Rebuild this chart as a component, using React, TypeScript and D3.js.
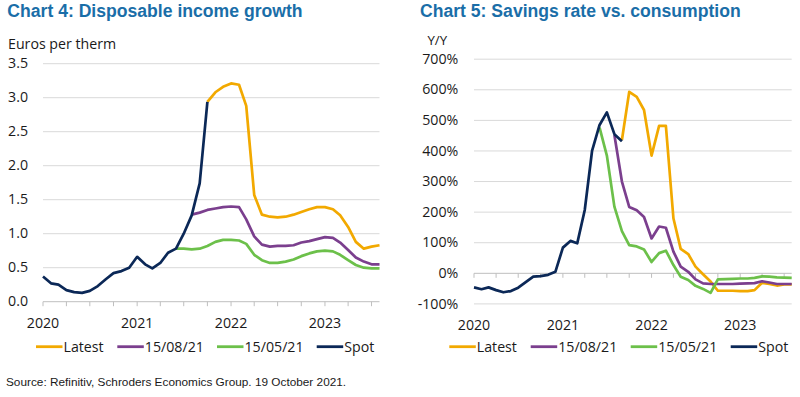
import React from "react";
import * as d3 from "d3";

// ---------- Data ----------
const SERIES_NAMES = ["Latest", "15/08/21", "15/05/21", "Spot"];
const SERIES_COLORS = ["#F2A900", "#7B3F8E", "#6CC04A", "#0B2857"];
const YEAR_LABELS = ["2020", "2021", "2022", "2023"];
const AXIS_START = "2020-01";
const AXIS_END = "2023-08";

// Chart 4 (monthly, first month of each series given)
const c4SpotStart = "2020-01";
const c4Spot = [0.37, 0.27, 0.25, 0.17, 0.14, 0.13, 0.16, 0.23, 0.33, 0.42, 0.45, 0.5, 0.66, 0.55, 0.49, 0.57, 0.72, 0.78, 1.0, 1.27, 1.74, 2.94];
const c4MayStart = "2021-06";
const c4May = [0.78, 0.78, 0.77, 0.78, 0.82, 0.88, 0.91, 0.91, 0.9, 0.85, 0.69, 0.61, 0.57, 0.57, 0.59, 0.62, 0.67, 0.71, 0.74, 0.75, 0.74, 0.69, 0.61, 0.54, 0.5, 0.49, 0.49];
const c4AugStart = "2021-08";
const c4Aug = [1.28, 1.31, 1.35, 1.37, 1.39, 1.4, 1.39, 1.21, 0.96, 0.84, 0.81, 0.82, 0.82, 0.83, 0.87, 0.89, 0.92, 0.95, 0.94, 0.87, 0.76, 0.65, 0.59, 0.55, 0.55];
const c4LatestStart = "2021-10";
const c4Latest = [2.94, 3.08, 3.16, 3.21, 3.19, 2.88, 1.57, 1.28, 1.25, 1.24, 1.25, 1.28, 1.32, 1.36, 1.39, 1.39, 1.36, 1.27, 1.1, 0.88, 0.78, 0.81, 0.83];
const c4Ticks = [0, 0.5, 1, 1.5, 2, 2.5, 3, 3.5];

// Chart 5 (% y/y)
const c5SpotStart = "2020-01";
const c5Spot = [-46, -52, -46, -55, -62, -58, -47, -29, -11, -9, -5, 5, 84, 106, 98, 207, 400, 485, 526, 455, 432];
const c5MayStart = "2021-06";
const c5May = [476, 385, 218, 138, 92, 88, 78, 37, 66, 74, 27, -11, -22, -41, -51, -64, -20, -19, -18, -17, -17, -15, -10, -11, -13, -14, -15];
const c5AugStart = "2021-08";
const c5Aug = [452, 300, 217, 206, 184, 114, 153, 149, 71, 22, 5, -20, -33, -35, -35, -35, -35, -34, -33, -32, -26, -30, -35, -35, -35];
const c5LatestStart = "2021-09";
const c5Latest = [436, 593, 577, 534, 385, 482, 482, 180, 80, 63, 22, -3, -27, -57, -57, -57, -58, -58, -55, -31, -35, -40, -36, -36];
const c5Ticks = [-100, 0, 100, 200, 300, 400, 500, 600, 700];

const SOURCE = "Source: Refinitiv, Schroders Economics Group. 19 October 2021.";

// ---------- Helpers ----------
const parseMonth = d3.timeParse("%Y-%m");
const toPoints = (start: string, vals: number[]) => {
  const s = parseMonth(start) as Date;
  return vals.map((v, i) => ({ d: d3.timeMonth.offset(s, i), v }));
};

const OPEN = "'Open Sans', 'DejaVu Sans', sans-serif";
const ARIAL = "'Liberation Sans', Arial, sans-serif";
const TITLE_COLOR = "#1A6EA8";
const GRID = "#D9D9D9";
const AXIS = "#BFBFBF";
const TEXT = "#1a1a1a";

type PanelProps = {
  title: string;
  titleX: number;
  unit: string;
  unitX: number;
  unitY: number;
  unitSize: number;
  unitAnchor: "start" | "middle";
  xRange: [number, number];
  yDomain: [number, number];
  yRange: [number, number];
  ticks: number[];
  tickFmt: (v: number) => string;
  tickX: number;
  axisAt: number;
  xLabelY: number;
  legendX: number[];
  series: { pts: { d: Date; v: number }[]; color: string }[];
};

function Panel(p: PanelProps) {
  const x = d3
    .scaleTime()
    .domain([parseMonth(AXIS_START) as Date, parseMonth(AXIS_END) as Date])
    .range(p.xRange);
  const y = d3.scaleLinear().domain(p.yDomain).range(p.yRange);
  const line = d3
    .line<{ d: Date; v: number }>()
    .x((d) => x(d.d))
    .y((d) => y(d.v));
  const qTicks = d3.timeMonth.every(3)!.range(x.domain()[0], d3.timeDay.offset(x.domain()[1], 1));
  const yearTicks = YEAR_LABELS.map((yl) => parseMonth(yl + "-01") as Date);
  const axisY = y(p.axisAt);
  return (
    <g>
      <text x={p.titleX} y={16.7} fontFamily={ARIAL} fontWeight="bold" fontSize={17.6} fill={TITLE_COLOR}>
        {p.title}
      </text>
      <text x={p.unitX} y={p.unitY} fontFamily={OPEN} fontSize={p.unitSize} fill={TEXT} textAnchor={p.unitAnchor}>
        {p.unit}
      </text>
      {p.ticks.map((t) => (
        <g key={t}>
          {t !== p.axisAt && (
            <line x1={p.xRange[0]} x2={p.xRange[1]} y1={y(t)} y2={y(t)} stroke={GRID} strokeWidth={1} />
          )}
          <text x={p.tickX} y={y(t)} dy="0.33em" textAnchor="end" fontFamily={OPEN} fontSize={14.2} fill={TEXT}>
            {p.tickFmt(t)}
          </text>
        </g>
      ))}
      <line x1={p.xRange[0]} x2={p.xRange[1]} y1={axisY} y2={axisY} stroke={AXIS} strokeWidth={1} />
      {qTicks.map((d, i) => (
        <line key={i} x1={x(d)} x2={x(d)} y1={axisY} y2={axisY + 4.5} stroke={AXIS} strokeWidth={1} />
      ))}
      {yearTicks.map((d, i) => (
        <text key={i} x={x(d)} y={p.xLabelY} textAnchor="middle" fontFamily={OPEN} fontSize={14.2} fill={TEXT}>
          {YEAR_LABELS[i]}
        </text>
      ))}
      {p.series.map((s, i) => (
        <path
          key={i}
          d={line(s.pts) || ""}
          fill="none"
          stroke={s.color}
          strokeWidth={2.7}
          strokeLinejoin="round"
        />
      ))}
      {SERIES_NAMES.map((n, i) => (
        <g key={n}>
          <line
            x1={p.legendX[i]}
            x2={p.legendX[i] + 26.5}
            y1={346.7}
            y2={346.7}
            stroke={SERIES_COLORS[i]}
            strokeWidth={2.8}
          />
          <text x={p.legendX[i] + 27.5} y={351.6} fontFamily={OPEN} fontSize={14.2} fill={TEXT}>
            {n}
          </text>
        </g>
      ))}
    </g>
  );
}

export default function App() {
  const s4 = [
    { pts: toPoints(c4LatestStart, c4Latest), color: SERIES_COLORS[0] },
    { pts: toPoints(c4AugStart, c4Aug), color: SERIES_COLORS[1] },
    { pts: toPoints(c4MayStart, c4May), color: SERIES_COLORS[2] },
    { pts: toPoints(c4SpotStart, c4Spot), color: SERIES_COLORS[3] },
  ];
  const s5 = [
    { pts: toPoints(c5LatestStart, c5Latest), color: SERIES_COLORS[0] },
    { pts: toPoints(c5AugStart, c5Aug), color: SERIES_COLORS[1] },
    { pts: toPoints(c5MayStart, c5May), color: SERIES_COLORS[2] },
    { pts: toPoints(c5SpotStart, c5Spot), color: SERIES_COLORS[3] },
  ];
  return (
    <svg
      width={800}
      height={397}
      style={{ position: "absolute", left: 0, top: 0, background: "#fff" }}
    >
      <rect width={800} height={397} fill="#fff" />
      <Panel
        title="Chart 4: Disposable income growth"
        titleX={7.3}
        unit="Euros per therm"
        unitX={8}
        unitY={48.5}
        unitSize={14.2}
        unitAnchor="start"
        xRange={[43, 379.5]}
        yDomain={[0, 3.5]}
        yRange={[301.7, 63.7]}
        ticks={c4Ticks}
        tickFmt={(v) => d3.format(".1f")(v)}
        tickX={28}
        axisAt={0}
        xLabelY={327.7}
        legendX={[36, 117.3, 217, 316.7]}
        series={s4}
      />
      <Panel
        title="Chart 5: Savings rate vs. consumption"
        titleX={420}
        unit="Y/Y"
        unitX={437.3}
        unitY={45}
        unitSize={13.2}
        unitAnchor="middle"
        xRange={[474, 791.7]}
        yDomain={[-100, 700]}
        yRange={[303.9, 59.2]}
        ticks={c5Ticks}
        tickFmt={(v) => v + "%"}
        tickX={458.3}
        axisAt={0}
        xLabelY={330}
        legendX={[449.3, 530.7, 630.7, 730.7]}
        series={s5}
      />
      <text x={6} y={386} fontFamily={ARIAL} fontSize={11.8} fill={TEXT}>
        {SOURCE}
      </text>
    </svg>
  );
}
